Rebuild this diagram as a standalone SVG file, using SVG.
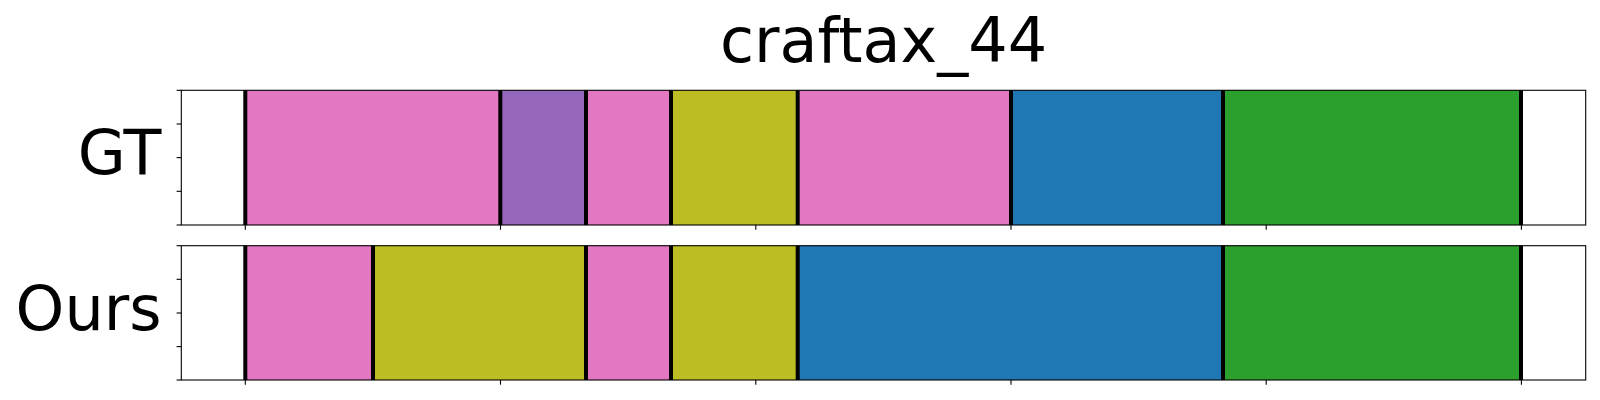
<svg xmlns="http://www.w3.org/2000/svg" width="1600" height="400" viewBox="0 0 1600 400">
<style>
  .lbl { font-family: "DejaVu Sans", "Liberation Sans", sans-serif; font-size: 62px; fill: #000; }
  .pink { fill: #e377c2; }
  .purple { fill: #9467bd; }
  .olive { fill: #bcbd22; }
  .blue { fill: #1f77b4; }
  .green { fill: #2ca02c; }
  .bound { stroke: #000; stroke-width: 4; }
  .spine { fill: none; stroke: #000; stroke-width: 1.1; }
  .tick { stroke: #000; stroke-width: 1.1; }
</style>
<rect x="0" y="0" width="1600" height="400" fill="#fff"/>
<text id="title" class="lbl" x="883.5" y="62" text-anchor="middle">craftax_44</text>

<g id="gt-row">
  <text class="lbl" x="161.5" y="174" text-anchor="end">GT</text>
  <rect class="pink" x="245.3" y="90.3" width="255" height="134.7"/>
  <rect class="purple" x="500.3" y="90.3" width="85.7" height="134.7"/>
  <rect class="pink" x="586" y="90.3" width="85" height="134.7"/>
  <rect class="olive" x="671" y="90.3" width="126.7" height="134.7"/>
  <rect class="pink" x="797.7" y="90.3" width="213.3" height="134.7"/>
  <rect class="blue" x="1011" y="90.3" width="212" height="134.7"/>
  <rect class="green" x="1223" y="90.3" width="298" height="134.7"/>
  <g class="bound">
    <line x1="245.3" y1="90.3" x2="245.3" y2="225"/>
    <line x1="500.3" y1="90.3" x2="500.3" y2="225"/>
    <line x1="586" y1="90.3" x2="586" y2="225"/>
    <line x1="671" y1="90.3" x2="671" y2="225"/>
    <line x1="797.7" y1="90.3" x2="797.7" y2="225"/>
    <line x1="1011" y1="90.3" x2="1011" y2="225"/>
    <line x1="1223" y1="90.3" x2="1223" y2="225"/>
    <line x1="1521" y1="90.3" x2="1521" y2="225"/>
  </g>
  <rect class="spine" x="181.3" y="90.3" width="1404.4" height="134.7"/>
  <g class="tick">
    <line x1="176.6" y1="90.3" x2="181.3" y2="90.3"/>
    <line x1="176.6" y1="124" x2="181.3" y2="124"/>
    <line x1="176.6" y1="157.6" x2="181.3" y2="157.6"/>
    <line x1="176.6" y1="191.3" x2="181.3" y2="191.3"/>
    <line x1="176.6" y1="225" x2="181.3" y2="225"/>
    <line x1="245.3" y1="225" x2="245.3" y2="229.7"/>
    <line x1="500.5" y1="225" x2="500.5" y2="229.7"/>
    <line x1="755.8" y1="225" x2="755.8" y2="229.7"/>
    <line x1="1011" y1="225" x2="1011" y2="229.7"/>
    <line x1="1266.2" y1="225" x2="1266.2" y2="229.7"/>
    <line x1="1521.4" y1="225" x2="1521.4" y2="229.7"/>
  </g>
</g>

<g id="ours-row">
  <text class="lbl" x="161.5" y="330" text-anchor="end">Ours</text>
  <rect class="pink" x="245.3" y="245.7" width="127.7" height="134.3"/>
  <rect class="olive" x="373" y="245.7" width="213" height="134.3"/>
  <rect class="pink" x="586" y="245.7" width="85" height="134.3"/>
  <rect class="olive" x="671" y="245.7" width="126.7" height="134.3"/>
  <rect class="blue" x="797.7" y="245.7" width="425.3" height="134.3"/>
  <rect class="green" x="1223" y="245.7" width="298" height="134.3"/>
  <g class="bound">
    <line x1="245.3" y1="245.7" x2="245.3" y2="380"/>
    <line x1="373" y1="245.7" x2="373" y2="380"/>
    <line x1="586" y1="245.7" x2="586" y2="380"/>
    <line x1="671" y1="245.7" x2="671" y2="380"/>
    <line x1="797.7" y1="245.7" x2="797.7" y2="380"/>
    <line x1="1223" y1="245.7" x2="1223" y2="380"/>
    <line x1="1521" y1="245.7" x2="1521" y2="380"/>
  </g>
  <rect class="spine" x="181.3" y="245.7" width="1404.4" height="134.3"/>
  <g class="tick">
    <line x1="176.6" y1="245.7" x2="181.3" y2="245.7"/>
    <line x1="176.6" y1="279.3" x2="181.3" y2="279.3"/>
    <line x1="176.6" y1="313" x2="181.3" y2="313"/>
    <line x1="176.6" y1="346.6" x2="181.3" y2="346.6"/>
    <line x1="176.6" y1="380" x2="181.3" y2="380"/>
    <line x1="245.3" y1="380" x2="245.3" y2="384.7"/>
    <line x1="500.5" y1="380" x2="500.5" y2="384.7"/>
    <line x1="755.8" y1="380" x2="755.8" y2="384.7"/>
    <line x1="1011" y1="380" x2="1011" y2="384.7"/>
    <line x1="1266.2" y1="380" x2="1266.2" y2="384.7"/>
    <line x1="1521.4" y1="380" x2="1521.4" y2="384.7"/>
  </g>
</g>
</svg>
